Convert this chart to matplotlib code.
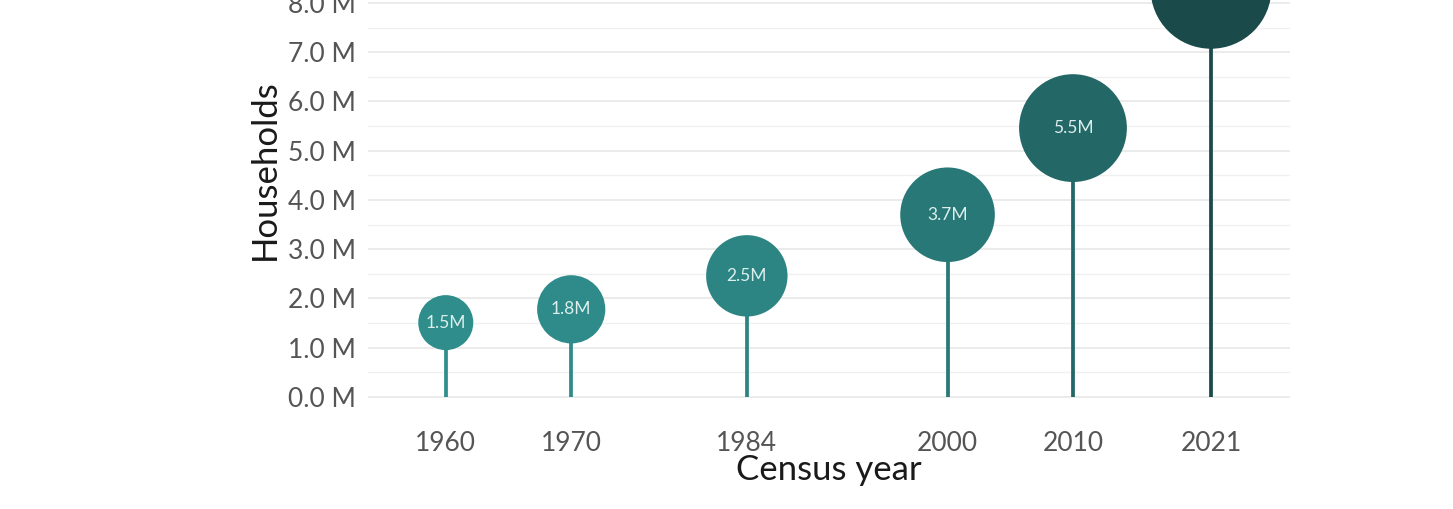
import numpy as np
import matplotlib
matplotlib.use("Agg")
import matplotlib.pyplot as plt
from matplotlib.colors import LinearSegmentedColormap, Normalize
from matplotlib.ticker import MultipleLocator, FuncFormatter

plt.rcParams["font.family"] = ["Lato", "DejaVu Sans"]

years = [1960, 1970, 1984, 2000, 2010, 2021]
households_m = [1.51, 1.78, 2.46, 3.70, 5.46, 8.30]
labels = ["1.5M", "1.8M", "2.5M", "3.7M", "5.5M", "8.3M"]

W, H, DPI = 1453, 509, 100
fig = plt.figure(figsize=(W / DPI, H / DPI), dpi=DPI)
# axes box in pixel terms: left 368, right 1290, top 0, bottom 412
ax = fig.add_axes([368 / W, (H - 412) / H, (1290 - 368) / W, 412 / H])

cmap = LinearSegmentedColormap.from_list("teal", ["#2F8E8C", "#1A4A4A"])
norm = Normalize(min(households_m), max(households_m))
colors = cmap(norm(np.array(households_m)))

# marker radius grows with rank (px), converted to points^2
r_px = np.linspace(27.5, 60.5, len(years))
sizes = (2 * r_px * 72 / DPI) ** 2

ax.vlines(years, 0, households_m, colors=colors, lw=2.7, zorder=2)
ax.scatter(years, households_m, s=sizes, c=colors, edgecolors="none",
           zorder=3, clip_on=False)
for x, y, t in zip(years, households_m, labels):
    ax.text(x, y, t, ha="center", va="center", fontsize=12.5, color="#DCEFED",
            zorder=4, clip_on=False)

ax.set_xlim(1953.8, 2027.3)
ax.set_ylim(-0.305, 8.061)
ax.set_xticks(years)
ax.yaxis.set_major_locator(MultipleLocator(1))
ax.yaxis.set_minor_locator(MultipleLocator(0.5))
ax.yaxis.set_major_formatter(FuncFormatter(lambda v, p: f"{v:.1f} M"))
ax.grid(axis="y", which="major", color="#E6E6E6", lw=1.1)
ax.grid(axis="y", which="minor", color="#F0F0F0", lw=1.0)
ax.set_axisbelow(True)
for s in ax.spines.values():
    s.set_visible(False)
ax.tick_params(axis="both", which="both", length=0)
ax.tick_params(axis="y", labelsize=19, labelcolor="#555555", pad=9)
ax.tick_params(axis="x", labelsize=19, labelcolor="#555555", pad=14)

fig.text(265 / W, 1 - 170 / H, "Households", rotation=90, ha="center",
         va="center", fontsize=25, color="#1A1A1A")
fig.text(829 / W, 1 - 470 / H, "Census year", ha="center", va="center",
         fontsize=25, color="#1A1A1A")

fig.savefig("out.png", dpi=DPI, facecolor="white")
